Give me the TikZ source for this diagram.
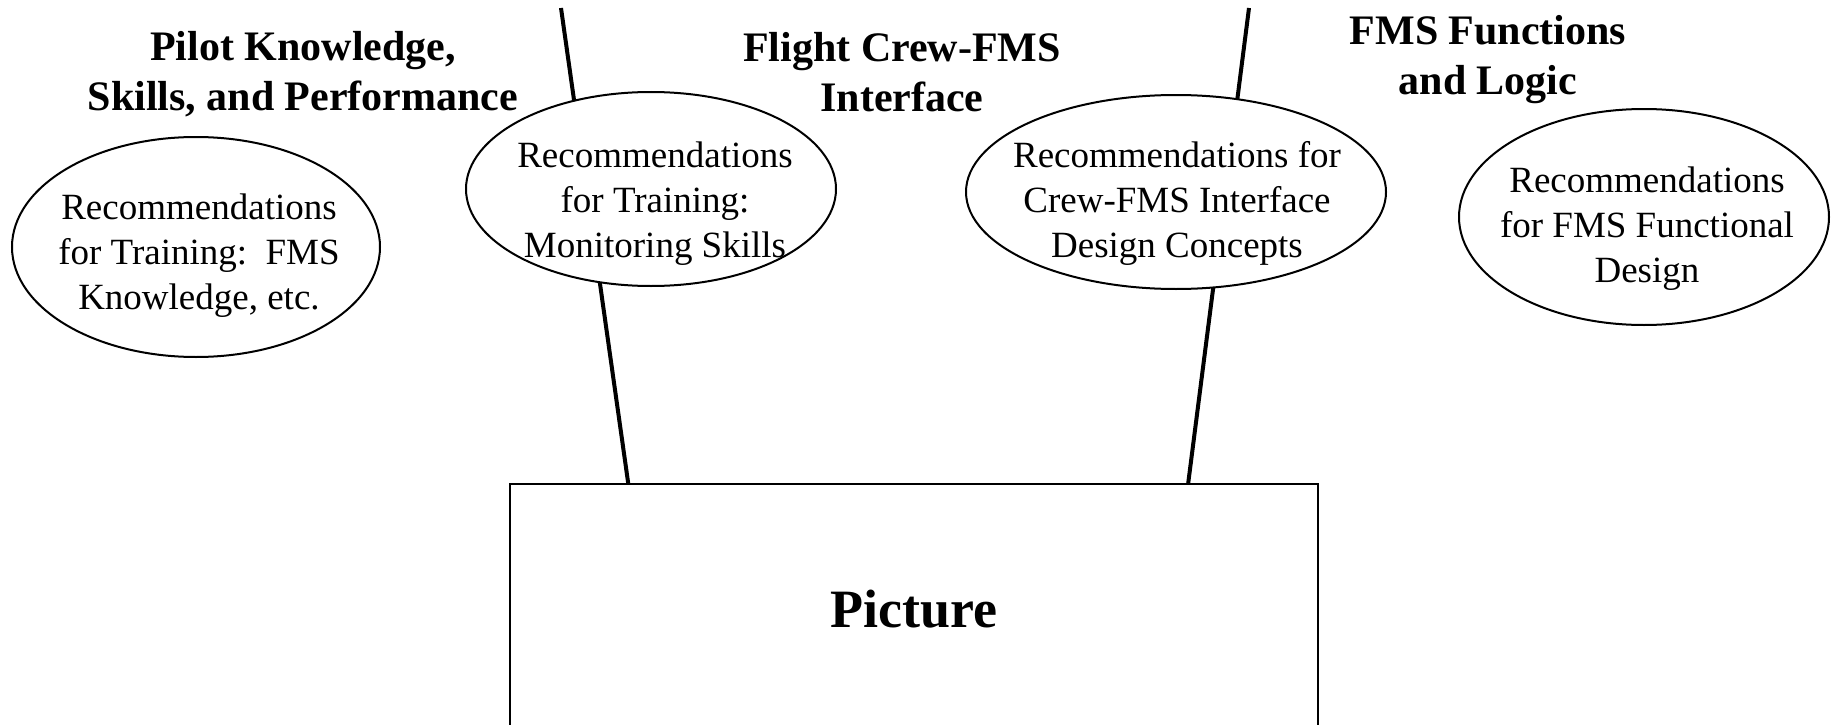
\documentclass[tikz,border=0pt]{standalone}
\usepackage{fontspec}
\setmainfont{Liberation Serif}
\usetikzlibrary{shapes.geometric,calc}
\begin{document}
\begin{tikzpicture}[x=1pt,y=-1pt,
  ell/.style={draw, ellipse, line width=2pt, fill=white, inner sep=0pt},
  body/.style={align=center, font=\fontsize{37}{45}\selectfont, inner sep=0pt},
  title/.style={align=center, font=\fontsize{42}{50}\selectfont\bfseries, inner sep=0pt},
  conn/.style={line width=4pt},
  box/.style={draw, line width=1.6pt, minimum width=808pt, minimum height=250pt, inner sep=0pt, font=\fontsize{54}{60}\selectfont\bfseries}]
\useasboundingbox (0,0) rectangle (1837,725);
\clip (0,0) rectangle (1837,725);
\fill[white] (0,0) rectangle (1837,725);
% main box
\node[box] (pic) at (914,609) {Picture};
% connectors (free top ends)
\coordinate (t1) at (561,8);
\coordinate (t2) at (1249,8);
\draw[conn] (t1) -- ($(pic.north west)+(119,0)$);
\draw[conn] (t2) -- ($(pic.north west)+(679,0)$);
% ellipses
\node[ell, minimum width=368pt, minimum height=220pt] (e1) at (196,247) {};
\node[ell, minimum width=370pt, minimum height=194pt] (e2) at (651,189) {};
\node[ell, minimum width=420pt, minimum height=194pt] (e3) at (1176,192) {};
\node[ell, minimum width=370pt, minimum height=216pt] (e4) at (1644,217) {};
% ellipse texts
\node[body] (x1) at (199,256) {Recommendations\\for Training:\ \ FMS\\Knowledge, etc.};
\node[body] (x2) at (655,204) {Recommendations\\for Training:\\Monitoring Skills};
\node[body] (x3) at (1177,203) {Recommendations for\\Crew-FMS Interface\\Design Concepts};
\node[body] (x4) at (1647,229) {Recommendations\\for FMS Functional\\Design};
% titles
\node[title] (h1) at (303,74) {Pilot Knowledge,\\Skills, and Performance};
\node[title] (h2) at (902,72) {Flight Crew-FMS\\Interface};
\node[title] (h3) at (1488,60) {FMS Functions\\and Logic};
\end{tikzpicture}
\end{document}
